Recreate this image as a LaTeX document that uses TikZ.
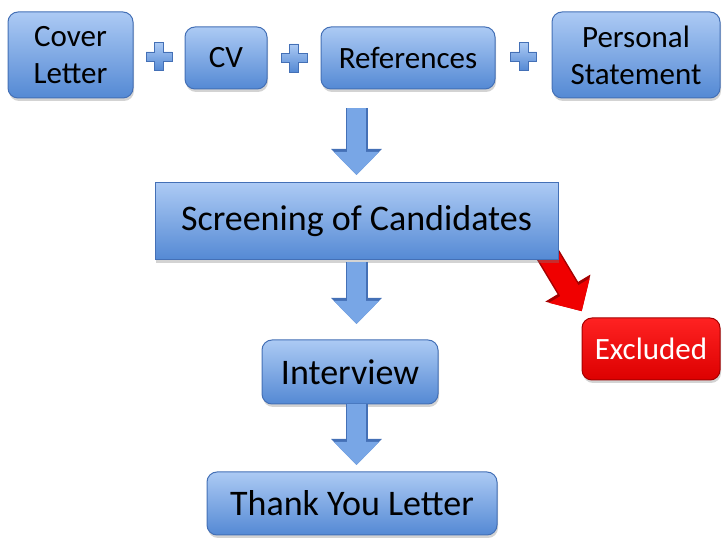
\documentclass[tikz,border=0pt]{standalone}
\usepackage{fontspec}
\setmainfont{Carlito}
\usetikzlibrary{arrows.meta,shadows,calc}

\pgfdeclarelayer{back}
\pgfsetlayers{back,main}

\definecolor{boxtop}{RGB}{172,202,244}
\definecolor{boxbot}{RGB}{84,137,212}
\definecolor{boxedge}{RGB}{68,112,182}
\definecolor{redtop}{RGB}{255,34,34}
\definecolor{redbot}{RGB}{220,0,0}
\definecolor{rededge}{RGB}{165,0,0}
\definecolor{arrowblue}{RGB}{120,166,230}
\definecolor{arrowred}{RGB}{240,0,0}

\tikzset{
  card/.style={draw=boxedge, line width=1pt, top color=boxtop, bottom color=boxbot,
    rounded corners=10pt, align=center, inner sep=0pt,
    drop shadow={opacity=0.35, shadow xshift=1pt, shadow yshift=-3pt}},
  flatcard/.style={card, rounded corners=0pt},
  redcard/.style={card, draw=rededge, top color=redtop, bottom color=redbot, text=white},
  small/.style={font=\fontsize{31}{37}\selectfont},
  big/.style={font=\fontsize{36}{43}\selectfont},
  flow/.style={preaction={draw=boxedge, line width=22pt, -{Triangle[width=49pt,length=26pt]}},
    draw=arrowblue, line width=19pt, -{Triangle[width=44pt,length=23pt]}, shorten >=1.5pt},
  redflow/.style={preaction={draw=rededge, line width=24pt, -{Triangle[width=51pt,length=27pt]}},
    draw=arrowred, line width=21pt, -{Triangle[width=46pt,length=24pt]}, shorten >=1.5pt},
  pics/plussign/.style={code={
    \draw[draw=boxedge, line width=0.8pt, top color=boxtop, bottom color=boxbot]
      (-4.5,14) -- (4.5,14) -- (4.5,4.5) -- (13,4.5) -- (13,-4.5) -- (4.5,-4.5) -- (4.5,-14)
      -- (-4.5,-14) -- (-4.5,-4.5) -- (-13,-4.5) -- (-13,4.5) -- (-4.5,4.5) -- cycle;}}
}

\begin{document}
\begin{tikzpicture}[x=1pt, y=1pt]
  \useasboundingbox (0,0) rectangle (728,546);

  % documents sent in
  \node[card, small, minimum width=125pt, minimum height=86pt]  (cover)    at ( 70.5, 491)   {Cover\\Letter};
  \node[card, small, minimum width=82pt,  minimum height=62pt]  (cv)       at (226,   488)   {CV};
  \node[card, small, minimum width=174pt, minimum height=62pt]  (refs)     at (408,   488)   {References};
  \node[card, small, minimum width=168pt, minimum height=86pt]  (personal) at (636,   491)   {Personal\\Statement};

  \pic at ($(cover.east)!0.5!(cv.west)$)    {plussign};
  \pic at ($(cv.east)!0.5!(refs.west)$)     {plussign};
  \pic at ($(refs.east)!0.5!(personal.west)$) {plussign};

  % selection steps
  \node[flatcard, big, minimum width=403pt, minimum height=77pt] (screen)    at (356.5, 324.5) {Screening of Candidates};
  \node[card, big,     minimum width=176pt, minimum height=64pt] (interview) at (350,   174)   {Interview};
  \node[card, big,     minimum width=290pt, minimum height=63pt] (thanks)    at (352,   42.5)  {Thank You Letter};
  \node[redcard, small, minimum width=138pt, minimum height=62pt] (excluded) at (651,   197)   {Excluded};

  \draw[flow, shorten <=19pt] (screen.north |- refs.south) -- ([yshift=6pt]screen.north);
  \draw[flow, shorten <=2pt]  (screen.south) -- ([yshift=14pt]screen.south |- interview.north);
  \draw[flow]                 (screen.south |- interview.south) -- ([yshift=5pt]screen.south |- thanks.north);

  \begin{pgfonlayer}{back}
    \draw[redflow] ([xshift=-12pt, yshift=8pt]screen.south east) -- ([xshift=1pt, yshift=5pt]excluded.north west);
  \end{pgfonlayer}
\end{tikzpicture}
\end{document}
